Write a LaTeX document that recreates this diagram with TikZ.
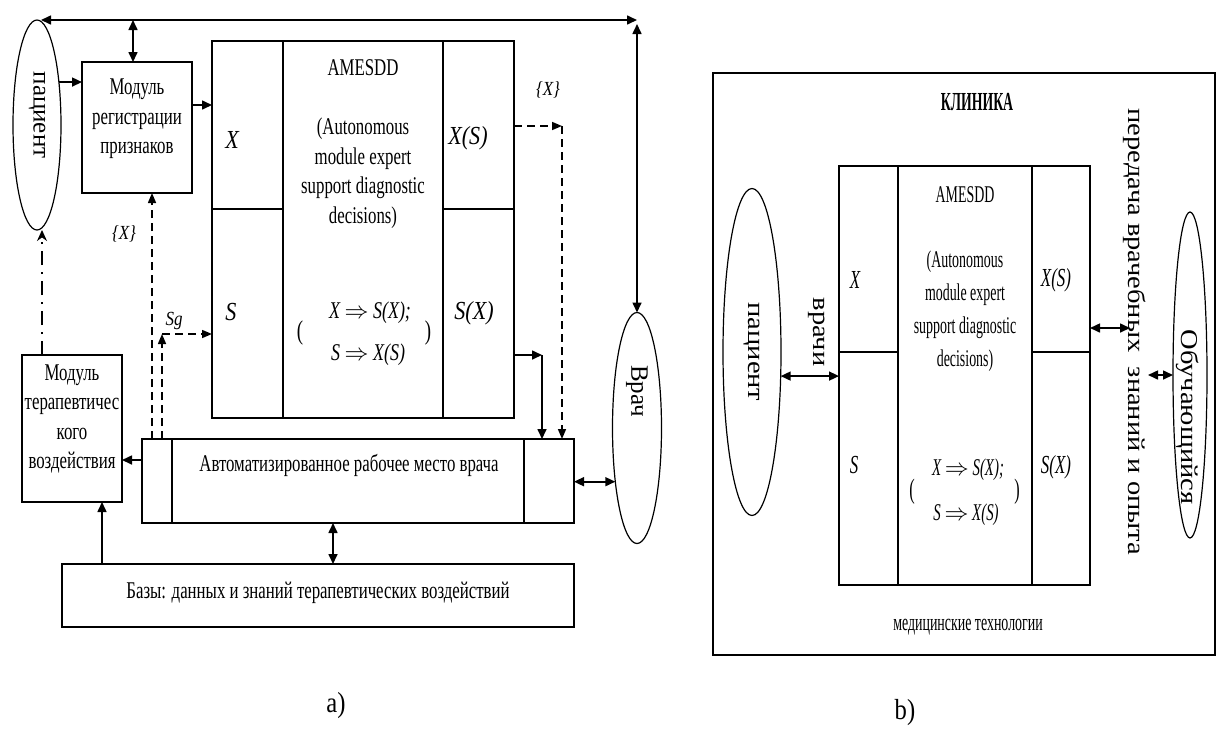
\RequirePackage{fix-cm}
\documentclass[tikz,border=0pt]{standalone}
\usepackage{fontspec}
\setmainfont{Liberation Serif}[FakeStretch=0.7]
\newfontfamily\lblfont{Liberation Serif}[FakeStretch=0.85]
\newfontfamily\fmlfont{Liberation Serif}[FakeStretch=0.75]
\newfontfamily\narrowb{Liberation Serif}[FakeStretch=0.58]
\newfontfamily\lblbfont{Liberation Serif}[FakeStretch=0.65]
\newfontfamily\fmlbfont{Liberation Serif}[FakeStretch=0.62]
\newfontfamily\clinfont{Liberation Serif}[FakeStretch=0.53]
\newfontfamily\wideserif{Liberation Serif}
\usetikzlibrary{arrows.meta,shapes.geometric}

\tikzset{
  cellbox/.style={draw, line width=1.5pt, inner sep=0pt, outer sep=0pt},
  oval/.style={draw, ellipse, line width=1.2pt, inner sep=0pt, outer sep=0pt},
  conn/.style={line width=1.6pt, -{Triangle[length=10pt,width=9pt]}},
  biconn/.style={line width=1.6pt, {Triangle[length=10pt,width=9pt]}-{Triangle[length=10pt,width=9pt]}},
  dconn/.style={line width=1.5pt, dash pattern=on 8pt off 5pt, -{Triangle[length=10pt,width=8pt]}},
  ddconn/.style={line width=1.2pt, dash pattern=on 14pt off 7pt on 2pt off 7pt, -{Stealth[length=11pt,width=10pt]}},
  txta/.style={font=\fontsize{24}{29.5}\selectfont, align=center, inner sep=0pt},
  txtb/.style={font=\narrowb\fontsize{24}{33}\selectfont, align=center, inner sep=0pt},
  lbla/.style={font=\lblfont\fontsize{26}{30}\selectfont\itshape, inner sep=0pt},
  fmla/.style={font=\fmlfont\fontsize{24}{28}\selectfont\itshape, inner sep=0pt},
  lblb/.style={font=\lblbfont\fontsize{26}{30}\selectfont\itshape, inner sep=0pt},
  fmlb/.style={font=\fmlbfont\fontsize{24}{28}\selectfont\itshape, inner sep=0pt},
  small/.style={font=\lblfont\fontsize{20}{22}\selectfont\itshape, inner sep=0pt},
  caption/.style={font=\lblfont\fontsize{29}{32}\selectfont, inner sep=0pt},
  vert/.style={rotate=-90, inner sep=0pt, font=\wideserif\fontsize{25}{28}\selectfont},
  vertb/.style={rotate=-90, inner sep=0pt, font=\wideserif\fontsize{28.5}{30}\selectfont},
}

% rectangle cell given by its corners: name, x1, y1, x2, y2
\newcommand\cellat[5]{%
  \node[cellbox, minimum width={#4-#2}, minimum height={#5-#3}] (#1)
    at ({(#2+#4)/2},{(#3+#5)/2}) {};}
% lettering of part b) squeezed across the line
\newcommand\thin[1]{\scalebox{1}[0.85]{#1}}

\begin{document}
\begin{tikzpicture}[x=1pt,y=-1pt]
\useasboundingbox (0,0) rectangle (1218,740);

% ---------------- a) ----------------
\node[oval, minimum width=48, minimum height=210] (pat) at (37,125) {};
\node[vert] (patT) at (37,115) {пациент};

\cellat{reg}{82}{62}{192}{193}
\node[txta] (regT) at (137,119) {Модуль\\регистрации\\признаков};

% AMESDD block
\cellat{ax}{212}{41}{283}{209}
\cellat{as}{212}{209}{283}{418}
\cellat{am}{283}{41}{443}{418}
\cellat{axs}{443}{41}{514}{209}
\cellat{asx}{443}{209}{514}{418}
\node[txta] (amT) at (363,68) {AMESDD};
\node[txta] (amD) at (363,173) {(Autonomous\\module expert\\support diagnostic\\decisions)};
\node[lbla] (axT) at (232,140) {X};
\node[lbla] (axsT) at (468,138) {X(S)};
\node[lbla] (asT) at (231,312) {S};
\node[lbla] (asxT) at (474,313) {S(X)};
\node[fmla] (f1) at (370,313) {X $\Rightarrow$ S(X);};
\node[fmla] (f2) at (368,355) {S $\Rightarrow$ X(S)};
\node[txta, font=\fontsize{27}{30}\selectfont] (pl) at (300,333) {(};
\node[txta, font=\fontsize{27}{30}\selectfont] (pr) at (428,333) {)};

% doctor
\node[oval, minimum width=49, minimum height=231] (vrach) at (637,428) {};
\node[vert] (vrachT) at (637,391) {Врач};

% workstation
\cellat{arml}{142}{439}{172}{523}
\cellat{armm}{172}{439}{524}{523}
\cellat{armr}{524}{439}{574}{523}
\node[txta] (armT) at (349,465) {Автоматизированное рабочее место врача};

% therapy module
\cellat{ther}{22}{355}{122}{502}
\node[txta] (therT) at (72,419) {Модуль\\терапевтичес\\кого\\воздействия};

% knowledge bases
\cellat{bases}{62}{564}{574}{627}
\node[txta] (basesT) at (318,593) {Базы: данных и знаний терапевтических воздействий};

\node[caption] (capA) at (336,706) {a)};

% connectors of a)
\coordinate (tr) at (637,20);
\coordinate (t1) at (133,20);
\draw[biconn] ([xshift=4pt]pat.north) -- (tr);
\draw[biconn] ([yshift=-4pt]tr) -- (vrach.north);
\draw[biconn] (t1) -- (t1 |- reg.north);
\draw[conn] (pat.63) -- (pat.63 -| reg.west);
\draw[conn] ([yshift=22.5pt]reg.east) -- ([yshift=22.5pt]reg.east -| ax.west);

\coordinate (c1) at (562,126);
\draw[dconn] (axs.east |- c1) -- (c1);
\draw[dconn] (c1) -- (c1 |- armr.north);
\node[small] (lx2) at (548,90) {\{X\}};

\coordinate (c2) at (542,355);
\draw[conn] (asx.east |- c2) -- (c2);
\draw[conn] (c2) -- (c2 |- armr.north);

\draw[conn] ([yshift=21pt]arml.west) -- ([yshift=21pt]arml.west -| ther.east);
\draw[biconn] (armr.east |- vrach.248) -- (vrach.248);
\draw[biconn] ([xshift=-15pt]armm.south) -- ([xshift=-15pt]armm.south |- bases.north);
\draw[conn] ([xshift=30pt]ther.south |- bases.north) -- ([xshift=30pt]ther.south);
\draw[ddconn] ([xshift=-30pt]ther.north) -- ([xshift=-30pt]ther.north |- pat.south);

\draw[dconn] ([xshift=-5pt]arml.north) -- ([xshift=-5pt]arml.north |- reg.south);
\coordinate (c3) at (162,334);
\draw[dconn] ([xshift=5pt]arml.north) -- (c3);
\draw[dconn] (c3) -- (c3 -| as.west);
\node[small] (lx1) at (124,234) {\{X\}};
\node[small] (lsg) at (174,321) {Sg};

% ---------------- b) ----------------
\cellat{clinic}{713}{73}{1215}{655}
\node[inner sep=0pt, font=\clinfont\bfseries\fontsize{26}{28}\selectfont] (clinicT) at (977,102) {КЛИНИКА};

\cellat{bx}{839}{166}{898}{352}
\cellat{bs}{839}{352}{898}{585}
\cellat{bm}{898}{166}{1032}{585}
\cellat{bxs}{1032}{166}{1090}{352}
\cellat{bsx}{1032}{352}{1090}{585}
\node[txtb] (bmT) at (965,195) {AMESDD};
\node[txtb] (bmD) at (965,311) {(Autonomous\\module expert\\support diagnostic\\decisions)};
\node[lblb] (bxT) at (855,280) {X};
\node[lblb] (bxsT) at (1056,280) {X(S)};
\node[lblb] (bsT) at (854,465) {S};
\node[lblb] (bsxT) at (1056,467) {S(X)};
\node[fmlb] (bf1) at (968,470) {X $\Rightarrow$ S(X);};
\node[fmlb] (bf2) at (966,515) {S $\Rightarrow$ X(S)};
\node[txtb, font=\narrowb\fontsize{28}{30}\selectfont] (bpl) at (912,492) {(};
\node[txtb, font=\narrowb\fontsize{28}{30}\selectfont] (bpr) at (1017,492) {)};
\node[txtb] (techT) at (968,627) {медицинские технологии};

\node[oval, minimum width=58, minimum height=327] (bpat) at (752,352) {};
\node[vertb] (bpatT) at (752,352) {\thin{пациент}};
\node[vertb] (vrachiT) at (817,332) {\thin{врачи}};
\draw[biconn] (bpat.320) -- (bpat.320 -| bx.west);

\node[vertb] (peredT) at (1135,332) {\thin{передача врачебных~ знаний и опыта}};
\coordinate (bt) at (1130,328);
\draw[biconn] (bxs.east |- bt) -- (bt);

\node[oval, minimum width=34, minimum height=326] (bobu) at (1190,375) {};
\node[vertb] (bobuT) at (1188,417) {\thin{Обучающийся}};
\coordinate (bq) at (1148,375);
\draw[biconn] (bq) -- (bobu.west);

\node[caption] (capB) at (905,713) {b)};
\end{tikzpicture}
\end{document}
